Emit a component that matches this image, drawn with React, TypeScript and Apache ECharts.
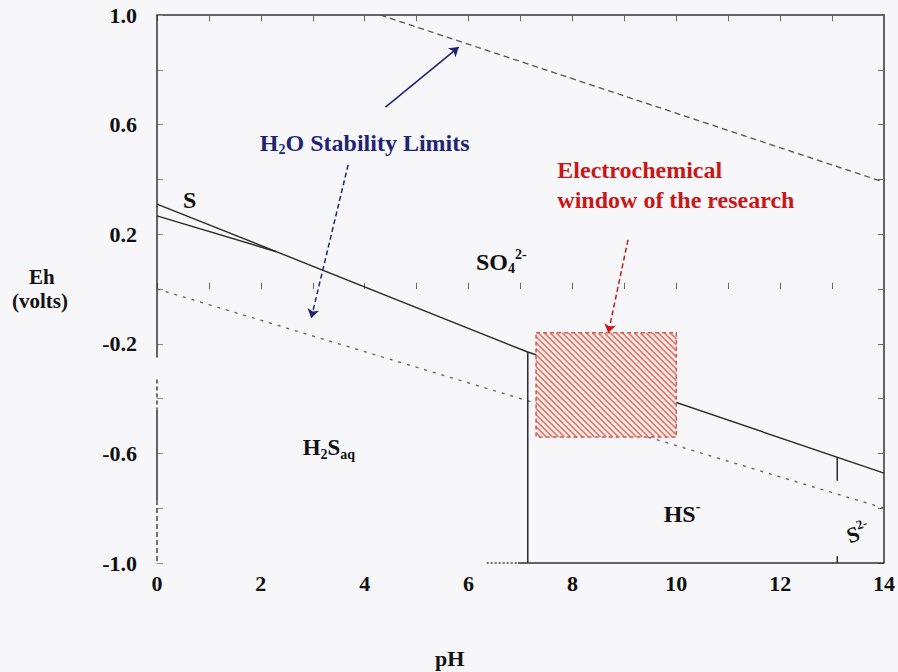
import React, { useEffect, useRef } from 'react';
import * as echarts from 'echarts';

// ---- data (pH, Eh in volts) ----
const upperWaterLimit: number[][] = [[4.3, 1.0], [14, 0.39]];
const lowerWaterLimit: number[][] = [[0, 0.0], [14, -0.8]];
const sulfurUpperBoundary: number[][] = [[0, 0.31], [7.14, -0.23]];
const sulfurLowerBoundary: number[][] = [[0, 0.267], [2.3, 0.136]];
const hsSulfateBoundary: number[][] = [[7.14, -0.23], [14, -0.672]];
const h2sHsBoundary: number[][] = [[7.14, -0.23], [7.14, -1.0]];
const hsS2BoundaryTop: number[][] = [[13.1, -0.613], [13.1, -0.7]];
const hsS2BoundaryBottom: number[][] = [[13.1, -0.975], [13.1, -1.0]];
// research window: pH min, pH max, Eh min, Eh max
const researchWindow: number[] = [7.3, 10.0, -0.54, -0.16];
// scanned frame pieces
const leftFrameSolid: number[][] = [[0, 1.0], [0, -0.25]];
const leftFrameDashedA: number[][] = [[0, -0.33], [0, -0.44]];
const leftFrameSolidB: number[][] = [[0, -0.44], [0, -0.77]];
const leftFrameDashedB: number[][] = [[0, -0.77], [0, -1.0]];
const bottomFrameDotted: number[][] = [[6.35, -1.0], [6.95, -1.0]];
const bottomFrameSolid: number[][] = [[6.95, -1.0], [14, -1.0]];
// arrows
const arrowUpperWater: number[][] = [[4.4, 0.664], [5.81, 0.883]];
const arrowLowerWater: number[][] = [[3.68, 0.453], [2.97, -0.106]];
const arrowWindow: number[][] = [[9.07, 0.179], [8.69, -0.161]];
// label anchors
const labelS: number[] = [0.63, 0.325];
const labelH2O: number[] = [4.0, 0.533];
const labelSO4: number[] = [6.63, 0.099];
const labelElectro: number[] = [7.7, 0.38];
const labelH2S: number[] = [3.31, -0.577];
const labelHS: number[] = [10.11, -0.821];
const labelS2: number[] = [13.5, -0.89];

const FONT = '"Liberation Serif", "Times New Roman", "DejaVu Serif", serif';
const NAVY = '#1f2573';
const RED = '#c81818';
const INK = '#111111';

function richFor(color: string, size: number) {
  const small = Math.round(size * 0.6);
  return {
    a: { fontFamily: FONT, fontWeight: 'bold', fontSize: size, color, lineHeight: 28, verticalAlign: 'middle' },
    b: { fontFamily: FONT, fontWeight: 'bold', fontSize: small, color, lineHeight: 28, verticalAlign: 'bottom' },
    c: { fontFamily: FONT, fontWeight: 'bold', fontSize: small, color, lineHeight: 28, verticalAlign: 'top' },
  };
}

function lineSeries(data: number[][], color: string, width: number, type: any, clip = true) {
  return {
    type: 'line',
    data,
    showSymbol: false,
    symbol: 'none',
    clip,
    silent: true,
    lineStyle: { color, width, type },
    z: 3,
  };
}

export default function App() {
  const ref = useRef<HTMLDivElement>(null);
  useEffect(() => {
    const chart = echarts.init(ref.current!, null, { renderer: 'svg' });
    const tickLabel = { fontFamily: FONT, fontWeight: 'bold', fontSize: 22, color: INK };
    const option: any = {
      animation: false,
      backgroundColor: '#f7f7fa',
      textStyle: { fontFamily: FONT },
      grid: { left: 157, right: 6, top: 15, bottom: 109, containLabel: false },
      xAxis: [
        {
          type: 'value', min: 0, max: 14, interval: 1, position: 'bottom',
          axisLine: { show: false },
          axisTick: { inside: true, length: 6, lineStyle: { color: '#666', width: 1 } },
          axisLabel: { ...tickLabel, margin: 9, formatter: (v: number) => (Math.round(v) % 2 === 0 ? String(Math.round(v)) : '') },
          splitLine: { show: false },
        },
        {
          type: 'value', min: 0, max: 14, interval: 1, position: 'top',
          axisLine: { show: true, onZero: false, lineStyle: { color: '#333', width: 1.5 } },
          axisTick: { inside: true, length: 6, lineStyle: { color: '#666', width: 1 } },
          axisLabel: { show: false },
          splitLine: { show: false },
        },
      ],
      yAxis: [
        {
          type: 'value', min: -1, max: 1, interval: 0.2, position: 'left',
          axisLine: { show: false },
          axisTick: { inside: true, length: 6, lineStyle: { color: '#888', width: 1 } },
          axisLabel: {
            ...tickLabel, margin: 20,
            formatter: (v: number) => {
              const k = Math.round((v + 1) * 10);
              return k % 4 === 0 ? v.toFixed(1) : '';
            },
          },
          splitLine: { show: false },
        },
        {
          type: 'value', min: -1, max: 1, interval: 0.2, position: 'right',
          axisLine: { show: true, onZero: false, lineStyle: { color: '#333', width: 1.5 } },
          axisTick: { inside: true, length: 6, lineStyle: { color: '#666', width: 1 } },
          axisLabel: { show: false },
          splitLine: { show: false },
        },
      ],
      series: [
        // frame pieces
        lineSeries(leftFrameSolid, '#333', 1.5, 'solid', false),
        lineSeries(leftFrameDashedA, '#444', 1.5, [4, 3], false),
        lineSeries(leftFrameSolidB, '#333', 1.5, 'solid', false),
        lineSeries(leftFrameDashedB, '#444', 1.5, [5, 3], false),
        lineSeries(bottomFrameDotted, '#444', 1.5, [2, 2], false),
        lineSeries(bottomFrameSolid, '#333', 1.5, 'solid', false),
        // water stability limits
        lineSeries(upperWaterLimit, '#555', 1.3, [6, 4]),
        lineSeries(lowerWaterLimit, '#666', 1.4, [3, 6]),
        // sulfur species boundaries
        lineSeries(sulfurUpperBoundary, '#2a2a2a', 1.4, 'solid'),
        lineSeries(sulfurLowerBoundary, '#2a2a2a', 1.4, 'solid'),
        lineSeries(hsSulfateBoundary, '#2a2a2a', 1.4, 'solid'),
        lineSeries(h2sHsBoundary, '#2a2a2a', 1.5, 'solid'),
        lineSeries(hsS2BoundaryTop, '#2a2a2a', 1.5, 'solid'),
        lineSeries(hsS2BoundaryBottom, '#2a2a2a', 1.5, 'solid'),
        // research window (hatched)
        {
          type: 'custom',
          data: [researchWindow],
          encode: { x: [0, 1], y: [2, 3] },
          silent: true,
          z: 5,
          renderItem: (params: any, api: any) => {
            const p0 = api.coord([api.value(0), api.value(3)]);
            const p1 = api.coord([api.value(1), api.value(2)]);
            const x0 = p0[0], y0 = p0[1], x1 = p1[0], y1 = p1[1];
            const children: any[] = [
              { type: 'rect', shape: { x: x0, y: y0, width: x1 - x0, height: y1 - y0 }, style: { fill: '#fcefec', stroke: 'none' } },
            ];
            const step = 6;
            // lines y = x + c  ("\" direction)
            for (let c = y0 - x1; c <= y1 - x0; c += step) {
              const xs = Math.max(x0, y0 - c);
              const xe = Math.min(x1, y1 - c);
              if (xe > xs) {
                children.push({
                  type: 'line',
                  shape: { x1: xs, y1: xs + c, x2: xe, y2: xe + c },
                  style: { stroke: '#e07e72', lineWidth: 1.8 },
                });
              }
            }
            children.push({
              type: 'rect',
              shape: { x: x0, y: y0, width: x1 - x0, height: y1 - y0 },
              style: { fill: 'none', stroke: '#cf5a50', lineWidth: 1.5, lineDash: [4, 3] },
            });
            return { type: 'group', children };
          },
        },
        // arrows
        {
          type: 'lines', coordinateSystem: 'cartesian2d', silent: true, z: 6,
          symbol: ['none', 'arrow'], symbolSize: 9,
          data: [{ coords: arrowUpperWater }],
          lineStyle: { color: NAVY, width: 1.6, type: 'solid', opacity: 1 },
        },
        {
          type: 'lines', coordinateSystem: 'cartesian2d', silent: true, z: 6,
          symbol: ['none', 'arrow'], symbolSize: 9,
          data: [{ coords: arrowLowerWater }],
          lineStyle: { color: NAVY, width: 1.5, type: [5, 3], opacity: 1 },
        },
        {
          type: 'lines', coordinateSystem: 'cartesian2d', silent: true, z: 6,
          symbol: ['none', 'arrow'], symbolSize: 9,
          data: [{ coords: arrowWindow }],
          lineStyle: { color: RED, width: 1.5, type: [5, 3], opacity: 1 },
        },
        // labels
        {
          type: 'scatter', silent: true, z: 7, symbolSize: 1,
          itemStyle: { color: 'rgba(0,0,0,0)', opacity: 1 },
          label: { opacity: 1 },
          data: [
            { value: labelS, label: { show: true, position: 'inside', formatter: '{a|S}', rich: richFor(INK, 24) } },
            { value: labelH2O, label: { show: true, position: 'inside', formatter: '{a|H}{b|2}{a|O Stability Limits}', rich: richFor(NAVY, 24) } },
            { value: labelSO4, label: { show: true, position: 'inside', formatter: '{a|SO}{b|4}{c|2-}', rich: richFor(INK, 24) } },
            { value: labelH2S, label: { show: true, position: 'inside', formatter: '{a|H}{b|2}{a|S}{b|aq}', rich: richFor(INK, 23) } },
            { value: labelHS, label: { show: true, position: 'inside', formatter: '{a|HS}{c|-}', rich: richFor(INK, 24) } },
            { value: labelS2, label: { show: true, position: 'inside', rotate: 18, formatter: '{a|S}{c|2-}', rich: richFor(INK, 22) } },
            {
              value: labelElectro,
              label: {
                show: true, position: 'right', distance: 0, align: 'left',
                formatter: 'Electrochemical\nwindow of the research',
                fontFamily: FONT, fontWeight: 'bold', fontSize: 24, color: RED, lineHeight: 30, opacity: 1,
              },
            },
          ],
        },
      ],
      graphic: [
        { type: 'text', left: 29, top: 266, style: { text: 'Eh', fontFamily: FONT, fontWeight: 'bold', fontSize: 21, fill: INK } },
        { type: 'text', left: 12, top: 290, style: { text: '(volts)', fontFamily: FONT, fontWeight: 'bold', fontSize: 21, fill: INK } },
        { type: 'text', left: 435, top: 647, style: { text: 'pH', fontFamily: FONT, fontWeight: 'bold', fontSize: 22, fill: INK } },
      ],
    };
    chart.setOption(option);
    return () => chart.dispose();
  }, []);
  return <div ref={ref} style={{ position: 'fixed', left: 0, top: 0, width: 898, height: 672 }} />;
}
